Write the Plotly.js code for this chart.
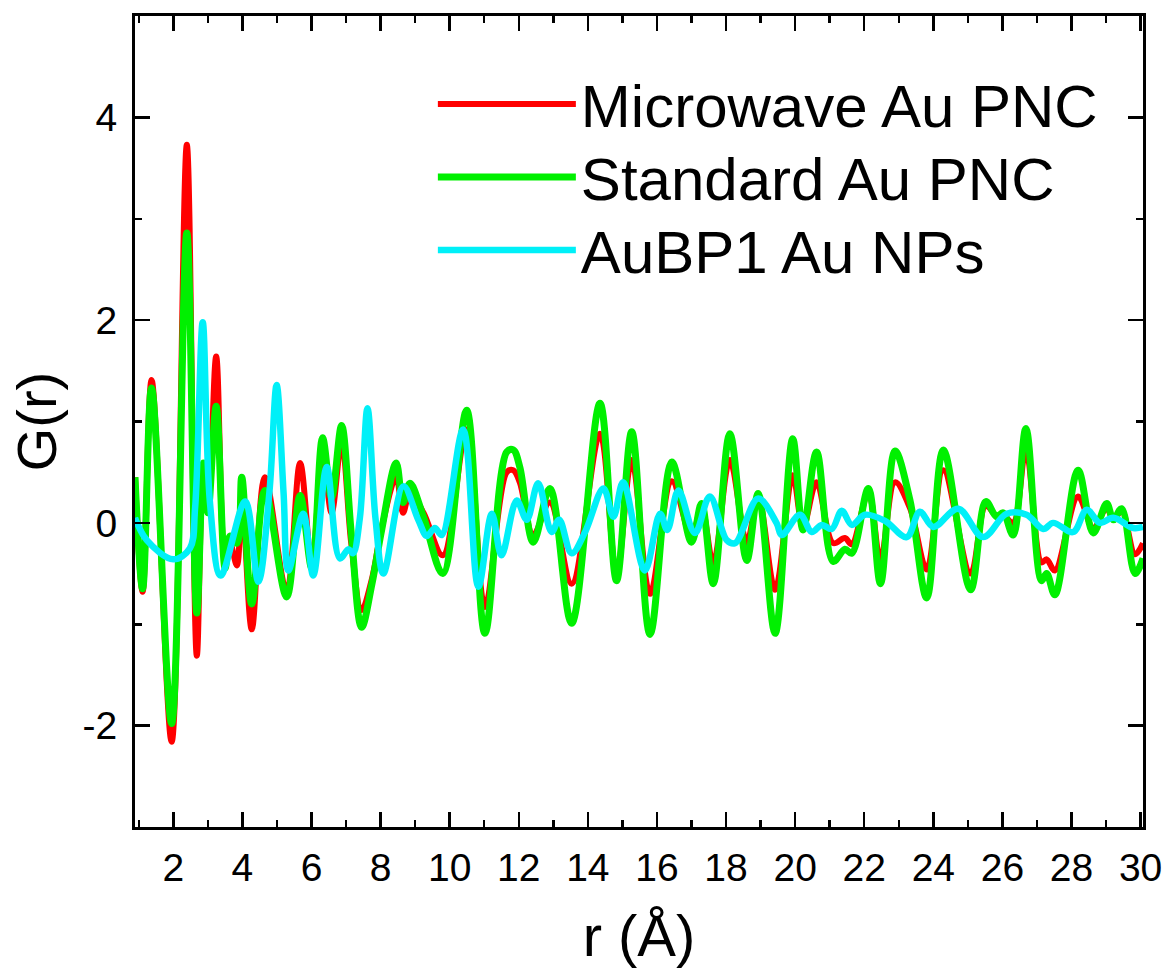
<!DOCTYPE html>
<html>
<head>
<meta charset="utf-8">
<script src="https://cdn.plot.ly/plotly-3.0.1.min.js"></script>
<style>
html,body{margin:0;padding:0;background:#fff;}
#chart{width:1170px;height:976px;}
</style>
</head>
<body>
<div id="chart"></div>
<script>
// Series names
const seriesNames = ['Microwave Au PNC', 'Standard Au PNC', 'AuBP1 Au NPs'];

// r (Å) positions read for the two PNC curves (shared)
const rPNC = [0.89,1.11,1.37,1.95,2.39,2.68,2.87,3.0,3.24,3.5,
  3.64,3.84,3.98,4.27,4.65,5.28,5.67,6.01,6.32,6.58,
  6.87,7.15,7.45,7.75,8.03,8.45,8.65,8.85,9.24,9.8,
  10.49,11.02,11.65,11.84,12.03,12.42,12.9,13.53,14.35,14.83,
  15.27,15.8,16.43,17.0,17.29,17.63,18.11,18.6,18.93,19.42,
  19.93,20.23,20.62,21.1,21.44,21.64,22.12,22.47,22.89,23.32,
  23.81,24.29,25.08,25.52,25.83,26.02,26.31,26.68,27.13,27.28,
  27.52,28.19,28.63,29.02,29.21,29.45,29.84,30.07];

// G(r) Microwave Au PNC (red)
const gMicrowave = [0.45,-0.68,1.41,-2.16,3.73,-1.31,0.4,0.2,1.64,-0.35,
  -0.2,-0.42,0.3,-1.05,0.45,-0.68,0.59,-0.4,0.66,0.1,
  0.8,-0.2,-0.86,-0.55,-0.05,0.45,0.1,0.3,0.1,-0.32,
  0.92,-0.83,0.5,0.52,0.4,-0.12,0.2,-0.6,0.88,-0.5,
  0.62,-0.7,0.41,-0.14,0.15,-0.4,0.62,-0.19,0.25,-0.66,
  0.47,-0.04,0.4,-0.2,-0.15,-0.21,0.3,-0.37,0.4,0.15,
  -0.46,0.52,-0.5,0.17,0.07,0.08,0.0,0.72,-0.39,-0.36,
  -0.47,0.26,-0.05,0.15,0.03,0.12,-0.31,-0.2];

// G(r) Standard Au PNC (green)
const gStandard = [0.45,-0.65,1.33,-1.98,2.86,-0.89,0.59,0.1,1.15,-0.45,
  -0.13,-0.2,0.45,-0.8,0.32,-0.73,0.27,-0.45,0.84,0.25,
  0.96,-0.1,-1.03,-0.6,-0.07,0.59,0.2,0.39,0.06,-0.5,
  1.11,-1.09,0.7,0.72,0.55,-0.19,0.34,-0.99,1.18,-0.57,
  0.9,-1.1,0.6,-0.19,0.19,-0.6,0.88,-0.37,0.29,-1.09,
  0.83,-0.07,0.7,-0.38,-0.26,-0.3,0.34,-0.6,0.71,0.23,
  -0.74,0.72,-0.66,0.21,0.06,0.1,-0.12,0.93,-0.57,-0.5,
  -0.71,0.52,-0.1,0.19,0.03,0.14,-0.5,-0.35];

// r (Å) and G(r) for AuBP1 Au NPs (cyan)
const rNP = [0.89,1.23,2.0,2.48,2.63,2.85,3.06,3.37,4.08,4.46,
  4.78,4.99,5.19,5.33,5.76,6.05,6.44,6.82,7.07,7.2,
  7.4,7.62,7.85,8.08,8.66,9.09,9.34,9.57,9.77,10.39,
  10.83,11.22,11.5,11.94,12.23,12.56,12.95,13.17,13.53,13.92,
  14.45,14.74,15.02,15.65,16.09,16.3,16.62,17.1,17.53,18.02,
  18.26,18.93,19.46,19.61,20.14,20.48,20.77,21.06,21.35,21.64,
  22.02,22.6,23.23,23.61,24.0,24.72,25.44,26.12,26.7,27.18,
  27.47,28.05,28.44,28.82,29.21,29.79,30.07];
const gNP = [0.05,-0.17,-0.36,-0.25,0.15,1.98,0.2,-0.52,0.21,-0.58,
  0.3,1.36,0.3,-0.47,0.09,-0.52,0.55,-0.35,-0.26,-0.3,
  0.05,1.13,0.05,-0.5,0.36,0.03,-0.13,-0.05,-0.12,0.92,
  -0.63,0.09,-0.32,0.22,0.03,0.39,-0.09,0.03,-0.3,-0.09,
  0.34,0.06,0.4,-0.47,0.09,-0.07,0.32,-0.1,0.26,-0.17,
  -0.2,0.24,0.0,-0.12,0.08,-0.09,-0.02,-0.06,0.12,-0.02,
  0.08,0.02,-0.14,0.11,-0.04,0.14,-0.14,0.09,0.08,-0.06,
  0.0,-0.09,0.13,0.0,0.05,-0.05,-0.04];

// Axis ticks
const xTickVals = [2,4,6,8,10,12,14,16,18,20,22,24,26,28,30];
const xMinorVals = [1,3,5,7,9,11,13,15,17,19,21,23,25,27,29];
const yTickVals = [-2,0,2,4];
const yTickText = ['-2','0','2','4'];
const yMinorVals = [-3,-1,1,3,5];

const colors = ['#FF0000', '#00F000', '#00F0F8'];
const widths = [6, 7, 6.5];
const legendIds = ['legend', 'legend2', 'legend3'];

const traces = [
  {x: rPNC, y: gMicrowave, name: seriesNames[0]},
  {x: rPNC, y: gStandard, name: seriesNames[1]},
  {x: rNP, y: gNP, name: seriesNames[2]}
].map((t, i) => Object.assign(t, {
  type: 'scatter', mode: 'lines', legend: legendIds[i],
  line: {color: colors[i], width: widths[i], shape: 'spline', smoothing: 1}
}));

const FONT = 'Arial, "Liberation Sans", sans-serif';
const axisCommon = {
  ticks: 'inside', ticklen: 15, tickwidth: 2.5, tickcolor: '#000',
  showline: true, linewidth: 3, linecolor: '#000', mirror: 'ticks',
  showgrid: false, zeroline: false,
  tickfont: {family: FONT, size: 39, color: '#000'}
};

function legendBox(yc) {
  return {
    x: 0.2955, y: yc, xanchor: 'left', yanchor: 'middle',
    font: {family: FONT, size: 60, color: '#000'},
    itemwidth: 138, bgcolor: 'rgba(0,0,0,0)', borderwidth: 0
  };
}

const layout = {
  width: 1170, height: 976,
  margin: {l: 135, r: 27, t: 16, b: 149},
  paper_bgcolor: '#fff', plot_bgcolor: '#fff',
  font: {family: FONT, color: '#000'},
  showlegend: true,
  legend: legendBox(0.8915),
  legend2: legendBox(0.8015),
  legend3: legendBox(0.7115),
  xaxis: Object.assign({}, axisCommon, {
    range: [0.89, 30.07], tickmode: 'array', tickvals: xTickVals,
    ticklabelstandoff: 4,
    minor: {tickmode: 'array', tickvals: xMinorVals, ticks: 'inside', ticklen: 7, tickwidth: 2.5, tickcolor: '#000', showgrid: false},
    title: {text: 'r (Å)', font: {family: FONT, size: 58, color: '#000'}, standoff: 28}
  }),
  yaxis: Object.assign({}, axisCommon, {
    range: [-3, 5], tickmode: 'array', tickvals: yTickVals, ticktext: yTickText,
    ticklabelstandoff: 7,
    minor: {tickmode: 'array', tickvals: yMinorVals, ticks: 'inside', ticklen: 7, tickwidth: 2.5, tickcolor: '#000', showgrid: false},
    title: {text: 'G(r)', font: {family: FONT, size: 56, color: '#000'}, standoff: 8}
  })
};

Plotly.newPlot('chart', traces, layout, {displayModeBar: false, staticPlot: true});
</script>
</body>
</html>
